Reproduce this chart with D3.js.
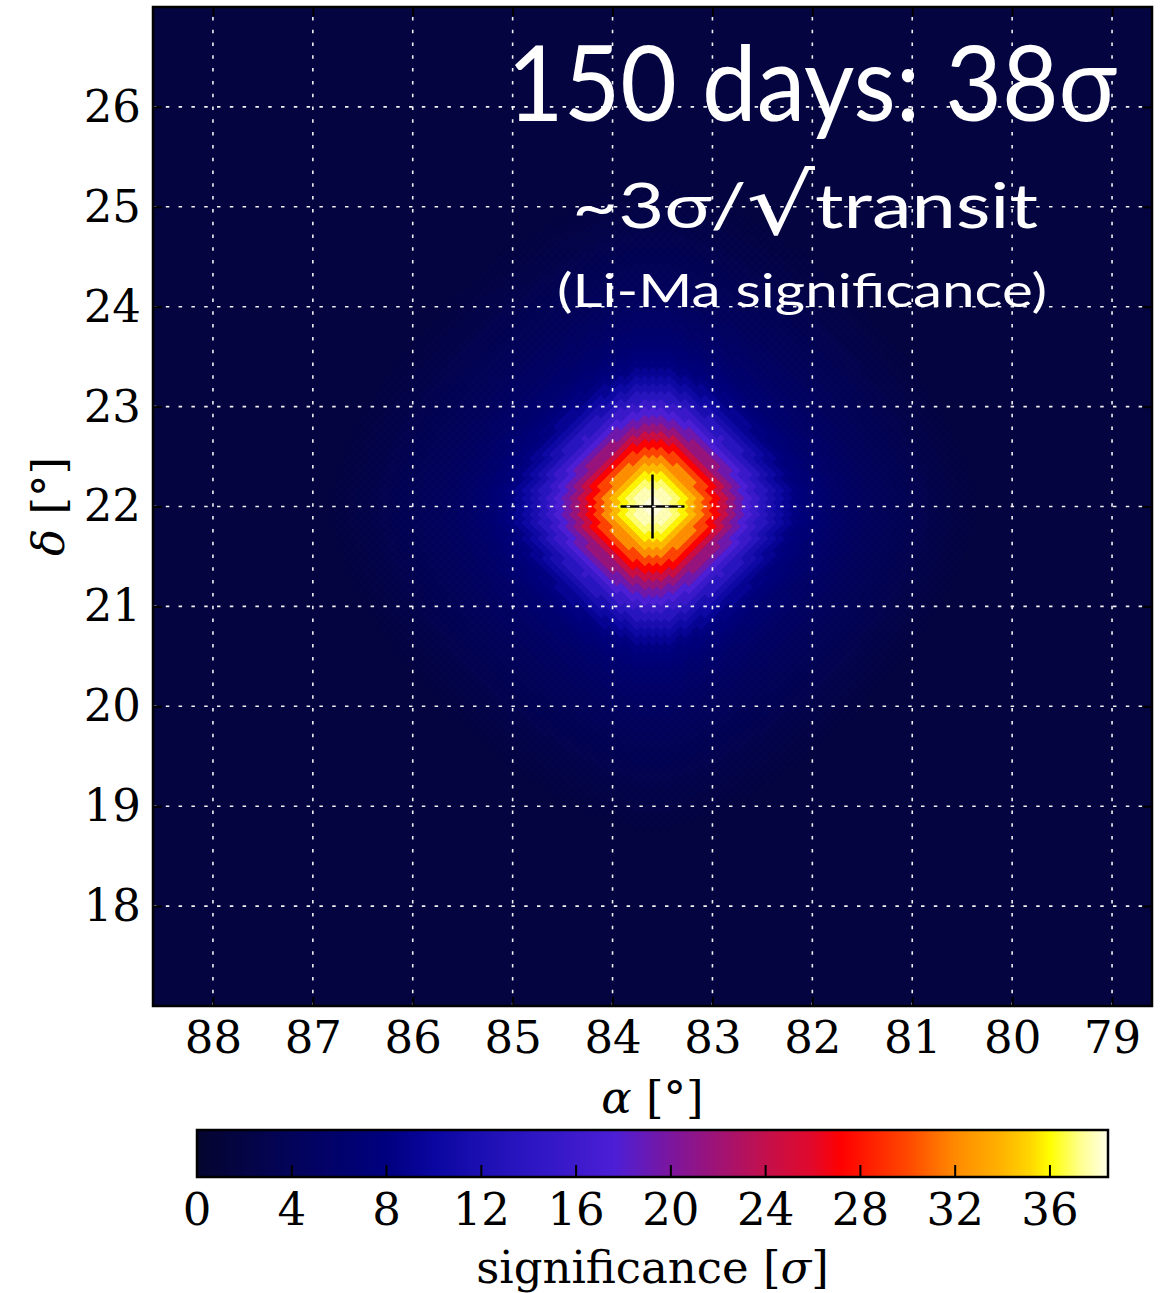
<!DOCTYPE html>
<html lang="en">
<head>
<meta charset="UTF-8">
<title>Li-Ma significance map</title>
<script src="https://d3js.org/d3.v7.min.js"></script>
<style>
  body { margin: 0; background: white; }
  svg { display: block; }
  .tick text { font-family: 'DejaVu Serif', serif; font-size: 45px; fill: black; }
  .domain { display: none; }
  .tick line { stroke: black; stroke-width: 2; }
  .lbl { font-family: 'DejaVu Serif', serif; font-size: 45px; fill: black; }
  .title { font-family: Lato, 'Open Sans', sans-serif; fill: white; }
</style>
</head>
<body>
<svg width="1165" height="1293"></svg>
<script>
// significance per ring around the source (ring k lies k*0.08 deg out along the axes)
const ringSig = [38.4, 38.3, 37.8, 37.0, 35.8, 34.2, 32.2, 29.8, 27.2, 24.4,
                 21.6, 19.4, 17.6, 15.6, 13.6, 11.8, 10.4, 9.2, 8.2, 7.5,
                 6.9, 6.4, 6.0, 5.6, 5.3, 5.0, 4.7, 4.4, 4.2, 4.0,
                 3.8, 3.6, 3.4, 3.2, 3.0, 2.8, 2.6, 2.4, 2.2, 2.0, 1.8];
const backgroundSig = 1.6;
const ringStep = 0.08;     // deg, also the diamond pixel width
const ringNorm = 1.5;      // rings are rounded diamonds
const sourcePos = [83.6, 22.0];
const crossHalf = 0.32;

const raTicks = [88, 87, 86, 85, 84, 83, 82, 81, 80, 79];
const decTicks = [18, 19, 20, 21, 22, 23, 24, 25, 26];
const cbTicks = [0, 4, 8, 12, 16, 20, 24, 28, 32, 36];
const sigMax = 38.45;

// colour map stops (sigma -> colour)
const cmapValues = [0, 4, 8, 10, 12, 14, 16, 17.6, 20, 24, 26, 27.2, 30, 32, 34, 35.2, 36, 37.3, 38.45];
const cmapColors = ["#050530", "#03035a", "#00007f", "#0a06a0", "#1c0fb2", "#2c16c2", "#3d1acc",
                    "#4c1ed6", "#7c169e", "#c3104c", "#e2082a", "#ff0000", "#ff4800", "#ff8a00",
                    "#ffb400", "#ffd800", "#ffff00", "#ffff90", "#ffffe8"];

const titleLines = ["150 days: 38σ", "~3σ/", "√", "transit", "(Li-Ma significance)"];

const svg = d3.select("svg");
const P = { left: 153, right: 1152, top: 7, bottom: 1006 };

const x = d3.scaleLinear().domain([88.6, 78.6]).range([P.left, P.right]);
const y = d3.scaleLinear().domain([17, 27]).range([P.bottom, P.top]);
const color = d3.scaleLinear().domain(cmapValues).range(cmapColors).clamp(true);

svg.append("clipPath").attr("id", "plotclip")
  .append("rect")
  .attr("x", P.left).attr("y", P.top)
  .attr("width", P.right - P.left).attr("height", P.bottom - P.top);

const map = svg.append("g").attr("clip-path", "url(#plotclip)");

map.append("rect")
  .attr("x", P.left).attr("y", P.top)
  .attr("width", P.right - P.left).attr("height", P.bottom - P.top)
  .attr("fill", color(backgroundSig));

// diamond (healpix-like) pixels on a 45-degree lattice around the source
const K = ringSig.length - 1;
const N = Math.ceil(K * Math.pow(2, 1 - 1 / ringNorm)) + 1;
const cells = [];
for (let i = -N; i <= N; i++) {
  for (let j = -N; j <= N; j++) {
    const a = Math.abs(i + j) / 2, b = Math.abs(i - j) / 2;
    const ring = Math.round(Math.pow(Math.pow(a, ringNorm) + Math.pow(b, ringNorm), 1 / ringNorm));
    if (ring > K) continue;
    cells.push({
      ra: sourcePos[0] + (i + j) * ringStep / 2,
      dec: sourcePos[1] + (i - j) * ringStep / 2,
      sig: ringSig[ring]
    });
  }
}

const h = ringStep / 2;
map.selectAll("path.cell")
  .data(cells)
  .enter().append("path")
  .attr("class", "cell")
  .attr("d", d => "M" + x(d.ra - h) + "," + y(d.dec) +
                  "L" + x(d.ra) + "," + y(d.dec + h) +
                  "L" + x(d.ra + h) + "," + y(d.dec) +
                  "L" + x(d.ra) + "," + y(d.dec - h) + "Z")
  .attr("fill", d => color(d.sig))
  .attr("stroke", d => color(d.sig))
  .attr("stroke-width", 0.6);

// source marker
map.append("line")
  .attr("x1", x(sourcePos[0] + crossHalf)).attr("x2", x(sourcePos[0] - crossHalf))
  .attr("y1", y(sourcePos[1])).attr("y2", y(sourcePos[1]))
  .attr("stroke", "black").attr("stroke-width", 2.5);
map.append("line")
  .attr("x1", x(sourcePos[0])).attr("x2", x(sourcePos[0]))
  .attr("y1", y(sourcePos[1] - crossHalf)).attr("y2", y(sourcePos[1] + crossHalf))
  .attr("stroke", "black").attr("stroke-width", 2.5);

// grid
const grid = svg.append("g");
grid.selectAll("line.v")
  .data(raTicks)
  .enter().append("line")
  .attr("x1", d => x(d)).attr("x2", d => x(d))
  .attr("y1", P.bottom).attr("y2", P.top)
  .attr("stroke", "#f2f2f2").attr("stroke-width", 1.6)
  .attr("stroke-dasharray", "3.5,9.3");
grid.selectAll("line.h")
  .data(decTicks)
  .enter().append("line")
  .attr("x1", P.left).attr("x2", P.right)
  .attr("y1", d => y(d)).attr("y2", d => y(d))
  .attr("stroke", "#f2f2f2").attr("stroke-width", 1.6)
  .attr("stroke-dasharray", "3.5,9.3");

// axes
svg.append("g")
  .attr("transform", "translate(0," + P.bottom + ")")
  .call(d3.axisBottom(x).tickValues(raTicks).tickSizeInner(-9).tickSizeOuter(0).tickPadding(15));
svg.append("g")
  .attr("transform", "translate(0," + P.top + ")")
  .call(d3.axisTop(x).tickValues(raTicks).tickSizeInner(-9).tickSizeOuter(0).tickFormat(""));
svg.append("g")
  .attr("transform", "translate(" + P.left + ",0)")
  .call(d3.axisLeft(y).tickValues(decTicks).tickSizeInner(-9).tickSizeOuter(0).tickPadding(12));
svg.append("g")
  .attr("transform", "translate(" + P.right + ",0)")
  .call(d3.axisRight(y).tickValues(decTicks).tickSizeInner(-9).tickSizeOuter(0).tickFormat(""));

svg.append("rect")
  .attr("x", P.left).attr("y", P.top)
  .attr("width", P.right - P.left).attr("height", P.bottom - P.top)
  .attr("fill", "none").attr("stroke", "black").attr("stroke-width", 2.5);

// axis labels
const xl = svg.append("text").attr("class", "lbl")
  .attr("x", (P.left + P.right) / 2).attr("y", 1113).attr("text-anchor", "middle");
xl.append("tspan").attr("font-style", "italic").text("α");
xl.append("tspan").text(" [°]");

const yl = svg.append("text").attr("class", "lbl")
  .attr("transform", "translate(64," + y(22) + ") rotate(-90)")
  .attr("text-anchor", "middle");
yl.append("tspan").attr("font-style", "italic").text("δ");
yl.append("tspan").text(" [°]");

// title block
svg.append("text").attr("class", "title")
  .attr("x", 507).attr("y", 121)
  .attr("font-size", 104)
  .attr("textLength", 610).attr("lengthAdjust", "spacingAndGlyphs")
  .text(titleLines[0]);

const t2 = svg.append("text").attr("class", "title")
  .attr("x", 572).attr("y", 228)
  .attr("font-size", 62)
  .attr("textLength", 466).attr("lengthAdjust", "spacingAndGlyphs");
t2.append("tspan").text(titleLines[1]);
t2.append("tspan").attr("font-family", "'DejaVu Sans', sans-serif").attr("font-size", 84)
  .attr("dy", 6).text(titleLines[2]);
t2.append("tspan").attr("dy", -6).text(titleLines[3]);

svg.append("text").attr("class", "title")
  .attr("x", 557).attr("y", 307)
  .attr("font-size", 46)
  .attr("textLength", 490).attr("lengthAdjust", "spacingAndGlyphs")
  .text(titleLines[4]);

// colour bar
const CB = { left: 197, right: 1108, top: 1130, bottom: 1177 };
const cb = d3.scaleLinear().domain([0, sigMax]).range([CB.left, CB.right]);

const grad = svg.append("defs").append("linearGradient")
  .attr("id", "cbgrad").attr("x1", "0%").attr("x2", "100%").attr("y1", "0%").attr("y2", "0%");
grad.selectAll("stop")
  .data(cmapValues)
  .enter().append("stop")
  .attr("offset", d => (100 * d / sigMax) + "%")
  .attr("stop-color", (d, i) => cmapColors[i]);

svg.append("rect")
  .attr("x", CB.left).attr("y", CB.top)
  .attr("width", CB.right - CB.left).attr("height", CB.bottom - CB.top)
  .attr("fill", "url(#cbgrad)");

svg.append("g").selectAll("line")
  .data(cbTicks)
  .enter().append("line")
  .attr("x1", d => cb(d)).attr("x2", d => cb(d))
  .attr("y1", CB.bottom).attr("y2", CB.bottom - 12)
  .attr("stroke", "black").attr("stroke-width", 2);

svg.append("rect")
  .attr("x", CB.left).attr("y", CB.top)
  .attr("width", CB.right - CB.left).attr("height", CB.bottom - CB.top)
  .attr("fill", "none").attr("stroke", "black").attr("stroke-width", 2.5);

svg.append("g").selectAll("text")
  .data(cbTicks)
  .enter().append("text")
  .attr("class", "lbl")
  .attr("x", d => cb(d)).attr("y", 1225)
  .attr("text-anchor", "middle")
  .text(d => d);

const cl = svg.append("text").attr("class", "lbl")
  .attr("x", (P.left + P.right) / 2).attr("y", 1283).attr("text-anchor", "middle");
cl.append("tspan").text("significance [");
cl.append("tspan").attr("font-style", "italic").text("σ");
cl.append("tspan").text("]");
</script>
</body>
</html>
